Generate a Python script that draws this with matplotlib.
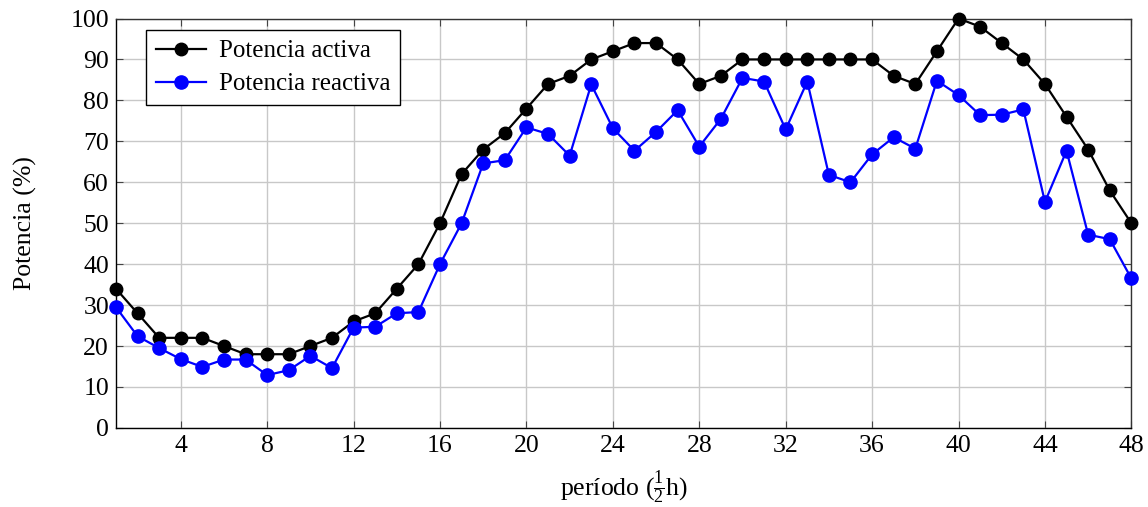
import matplotlib
matplotlib.use("Agg")
import matplotlib.pyplot as plt

# Half-hour periods and power profiles (% of peak)
periods = list(range(1, 49))
active_power = [34, 28, 22, 22, 22, 20, 18, 18, 18, 20, 22, 26, 28, 34, 40, 50,
                62, 68, 72, 78, 84, 86, 90, 92, 94, 94, 90, 84, 86, 90, 90, 90,
                90, 90, 90, 90, 86, 84, 92, 100, 98, 94, 90, 84, 76, 68, 58, 50]
reactive_power = [29.5, 22.4, 19.5, 16.8, 14.9, 16.7, 16.7, 12.9, 14.1, 17.6, 14.6, 24.5,
                  24.7, 28.0, 28.3, 40.0, 50.0, 64.6, 65.4, 73.4, 71.8, 66.5, 83.9, 73.2,
                  67.7, 72.3, 77.6, 68.7, 75.5, 85.5, 84.6, 72.9, 84.6, 61.8, 60.0, 66.8,
                  71.0, 68.2, 84.8, 81.3, 76.4, 76.5, 77.8, 55.2, 67.7, 47.2, 46.1, 36.5]
x_ticks = list(range(4, 49, 4))
y_ticks = list(range(0, 101, 10))

plt.rcParams["font.family"] = ["Liberation Serif", "DejaVu Serif"]
plt.rcParams["mathtext.fontset"] = "custom"
plt.rcParams["mathtext.rm"] = "Liberation Serif"
plt.rcParams["mathtext.it"] = "Liberation Serif:italic"

fig = plt.figure(figsize=(11.48, 5.07), dpi=100)
ax = fig.add_axes([0.101, 0.156, 0.8845, 0.8075])

ax.plot(periods, active_power, color="black", lw=1.6, marker="o", ms=9,
        label="Potencia activa", zorder=3, clip_on=False)
ax.plot(periods, reactive_power, color="#0000ff", lw=1.6, marker="o", ms=9.5,
        label="Potencia reactiva", zorder=3, clip_on=False)

ax.set_xlim(1, 48)
ax.set_ylim(0, 100)
ax.set_xticks(x_ticks)
ax.set_yticks(y_ticks)
ax.grid(True, color="#c8c8c8", lw=1.0, zorder=0)
ax.tick_params(direction="in", length=5, width=0.8, labelsize=18.5,
               top=True, right=True, colors="#444444", labelcolor="black", pad=5)
for s in ax.spines.values():
    s.set_linewidth(1.0)
    s.set_color("#333333")
ax.spines["left"].set_color("black")
ax.spines["bottom"].set_color("black")

ax.set_xlabel(r"período ($\frac{1}{2}$h)", fontsize=18.5, labelpad=9)
ax.set_ylabel("Potencia (%)", fontsize=18.5, labelpad=24)

leg = ax.legend(loc="upper left", bbox_to_anchor=(0.030, 0.972), fontsize=18,
                frameon=True, fancybox=False, edgecolor="black", framealpha=1,
                handlelength=2.0, handletextpad=0.5, borderpad=0.4,
                labelspacing=0.42, borderaxespad=0.0)
leg.get_frame().set_linewidth(1.0)

fig.savefig("out.png", dpi=100)
